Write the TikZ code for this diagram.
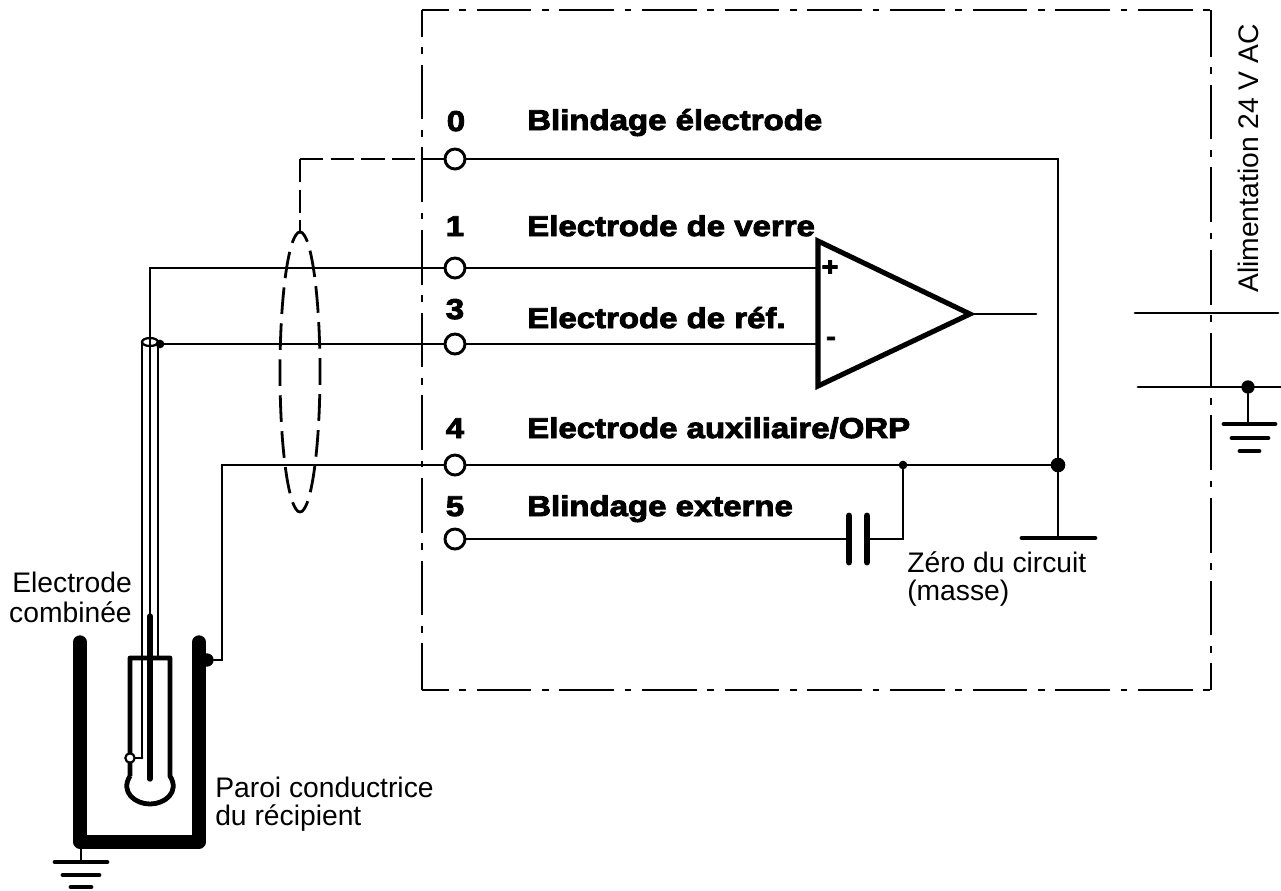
\documentclass[tikz,border=0pt]{standalone}
\usepackage{fontspec}
\setmainfont{Liberation Sans}
\newfontfamily\heavyfont[FakeBold=3.2,FakeStretch=1.15]{Liberation Sans Bold}
\usetikzlibrary{calc}
\tikzset{
  wire/.style={draw=black,line width=2.2pt,line cap=round,line join=miter},
  thinwire/.style={draw=black,line width=1.7pt},
  heavy/.style={draw=black,line width=3.6pt,line cap=round,line join=round},
  vessel/.style={draw=black,line width=10pt,line cap=round,line join=round},
  boxline/.style={draw=black,line width=2.2pt,dash pattern=on 41pt off 8pt on 5pt off 8pt,dash phase=21pt},
  cabledash/.style={draw=black,line width=2.1pt,dash pattern=on 17.5pt off 5.5pt},
  ovaldash/.style={draw=black,line width=2.1pt,dash pattern=on 20pt off 7pt,dash phase=10.4pt},
  terminal/.style={circle,draw=black,line width=2.2pt,fill=white,minimum size=15pt,inner sep=0pt},
  jdot/.style={circle,fill=black,inner sep=0pt,minimum size=#1},
  lab/.style={anchor=base west,inner sep=0pt,font=\fontsize{21.2pt}{23pt}\selectfont},
  blab/.style={anchor=base west,inner sep=0pt,font=\fontsize{21.5pt}{23pt}\heavyfont},
  num/.style={anchor=base,inner sep=0pt,font=\fontsize{21.5pt}{23pt}\heavyfont},
  x=0.75pt,y=-0.75pt
}
\begin{document}
\begin{tikzpicture}
\useasboundingbox (0,0) rectangle (1281,890);
% enclosure
\coordinate (tl) at (422,10);
\coordinate (tr) at (1211,10);
\coordinate (bl) at (422,690);
\coordinate (br) at (1211,690);
\draw[boxline] (tl) -- (tr);
\draw[boxline] (tl) -- (bl);
\draw[boxline] (bl) -- (br);
\draw[boxline] (br) -- (tr);
% coordinates
\coordinate (shieldcorner) at (300,159);
\coordinate (boxcross) at (422,159);
\coordinate (cabletop) at (300,232);
\coordinate (t0end) at (1058,159);
\coordinate (gndtop) at (1058,538);
\coordinate (g1l) at (1022,538);
\coordinate (g1r) at (1095,538);
\coordinate (w1c) at (150,268);
\coordinate (w1b) at (150,342);
\coordinate (w4c) at (222,465);
\coordinate (w4b) at (222,660);
\coordinate (opA) at (818,241);
\coordinate (opB) at (818,386);
\coordinate (opC) at (970,314);
\coordinate (opP) at (818,268);
\coordinate (opM) at (818,344);
\coordinate (opOut) at (1036,314);
\coordinate (capR) at (903,539);
\coordinate (capa) at (849,539);
\coordinate (capb) at (867,539);
% terminals
\node[terminal] (t0) at (455,159) {};
\node[terminal] (t1) at (455,268) {};
\node[terminal] (t3) at (455,344) {};
\node[terminal] (t4) at (455,465) {};
\node[terminal] (t5) at (455,539) {};
\node[jdot=11pt] (j1) at (1058,465) {};
\node[jdot=6.5pt] (j2) at (903,465) {};
\node[jdot=6.5pt] (j3) at (160,344) {};
\node[jdot=10pt] (j4) at (207,660) {};
\node[jdot=10pt] (j5) at (1248,387) {};
% shield
\draw[cabledash] (shieldcorner) -- (boxcross);
\draw[cabledash] (shieldcorner) -- (cabletop);
\draw[wire] (boxcross) -- (t0);
\draw[ovaldash] (300,372) ellipse [x radius=20,y radius=140];
% wires
\draw[wire] (t0) -- (t0end) -- (j1) -- (gndtop);
\draw[heavy] (g1l) -- (g1r);
\draw[wire] (w1b) -- (w1c) -- (t1);
\draw[wire] (t1) -- (opP);
\draw[wire] (j3) -- (t3);
\draw[wire] (t3) -- (opM);
\draw[wire] (j4) -- (w4b) -- (w4c) -- (t4);
\draw[wire] (t4) -- (j1);
\draw[wire] (j2) -- (capR) -- (capb);
\draw[wire] (t5) -- (capa);
% capacitor
\draw[draw=black,line width=5.2pt,line cap=round] (849,516) -- (849,562);
\draw[draw=black,line width=5.2pt,line cap=round] (867,516) -- (867,562);
% opamp
\draw[draw=black,line width=3.8pt,line join=miter] (opA) -- (opC) -- (opB) -- cycle;
\draw[wire] (opC) -- (opOut);
\node[anchor=center,inner sep=0pt,font=\fontsize{19pt}{20pt}\heavyfont] (plus) at (830,268) {+};
\node[anchor=center,inner sep=0pt,font=\fontsize{19pt}{20pt}\heavyfont] (minus) at (831,341) {-};
% supply
\coordinate (s1l) at (1135,313);
\coordinate (s1r) at (1278,313);
\coordinate (s2l) at (1138,387);
\coordinate (s2r) at (1281,387);
\draw[wire] (s1l) -- (s1r);
\draw[wire] (s2l) -- (s2r);
\coordinate (sg) at (1248,424);
\draw[wire] (j5) -- (sg);
\draw[heavy] (1224,424) -- (1275,424);
\draw[heavy] (1232,438) -- (1268,438);
\draw[heavy] (1240,451) -- (1259,451);
% electrode
\coordinate (tubeLt) at (142,342);
\coordinate (tubeRt) at (158,342);
\coordinate (tubeLb) at (142,758);
\coordinate (tubeRb) at (158,658);
\draw[thinwire] (150,342) ellipse [x radius=8,y radius=4];
\draw[wire] (tubeLt) -- (tubeLb);
\draw[thinwire] (tubeRt) -- (tubeRb);
\draw[thinwire] (w1b) -- (150,616);
\draw[draw=black,line width=4pt,line cap=round] (150,616) -- (150,779);
\draw[draw=black,line width=3.6pt,line join=round]
  (130,776) -- (130,658) -- (170,658) -- (170,776)
  .. controls (180,792) and (165,804) .. (150,804)
  .. controls (135,804) and (120,792) .. (130,776);
\draw[wire] (tubeLb) -- (130,758);
\node[circle,draw=black,line width=1.6pt,fill=white,minimum size=7pt,inner sep=0pt] (ecirc) at (130,758) {};
% vessel
\draw[vessel] (80,642) -- (80,842) -- (199,842) -- (199,642);
\coordinate (vg) at (81,862);
\draw[wire] (81,842) -- (vg);
\draw[heavy] (55,862) -- (107,862);
\draw[heavy] (63,875) -- (99,875);
\draw[heavy] (71,887) -- (91,887);
% labels
\node[num] (n0) at (456,131) {0};
\node[num] (n1) at (455,236) {1};
\node[num] (n3) at (455,319) {3};
\node[num] (n4) at (455,438) {4};
\node[num] (n5) at (455,516) {5};
\node[blab] (l0) at (527,130) {Blindage électrode};
\node[blab] (l1) at (527,236) {Electrode de verre};
\node[blab] (l3) at (527,328) {Electrode de réf.};
\node[blab] (l4) at (527,438) {Electrode auxiliaire/ORP};
\node[blab] (l5) at (527,516) {Blindage externe};
\node[lab] (z1) at (907,572) {Zéro du circuit};
\node[lab] (z2) at (907,600) {(masse)};
\node[lab,anchor=base east] (e1) at (132,592) {Electrode};
\node[lab,anchor=base east] (e2) at (132,622) {combinée};
\node[lab] (p1) at (215,797) {Paroi conductrice};
\node[lab] (p2) at (215,825) {du récipient};
\node[lab,rotate=90,anchor=base west] (al) at (1258,293) {Alimentation 24 V AC};
\end{tikzpicture}
\end{document}
